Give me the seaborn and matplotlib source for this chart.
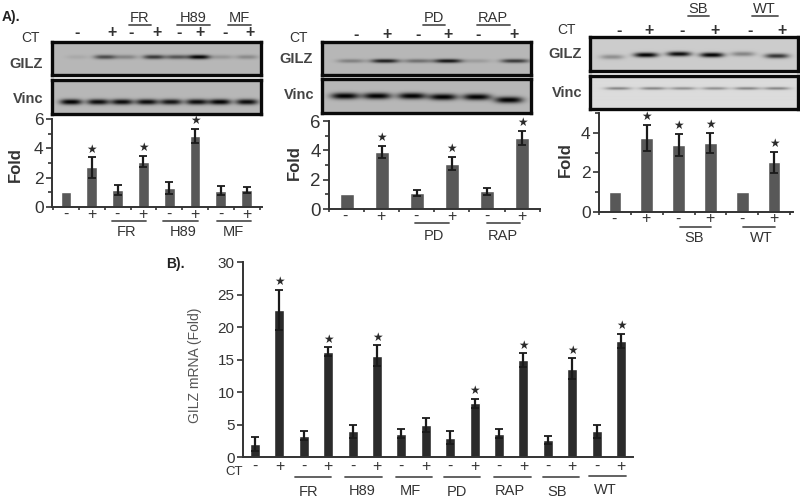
import numpy as np
import matplotlib
matplotlib.use("Agg")
import matplotlib.pyplot as plt
import seaborn as sns

sns.set_theme(style="white")
plt.rcParams['font.family'] = ['Liberation Sans', 'DejaVu Sans']

# ---- data
a1_cats = ["-", "+", "FR-", "FR+", "H89-", "H89+", "MF-", "MF+"]
a1_vals = [1.0, 2.7, 1.15, 3.1, 1.3, 4.85, 1.1, 1.15]
a1_errs = [0, 0.7, 0.35, 0.4, 0.4, 0.5, 0.3, 0.2]
a1_star = [1, 3, 5]
a2_cats = ["-", "+", "PD-", "PD+", "RAP-", "RAP+"]
a2_vals = [1.0, 3.9, 1.1, 3.1, 1.2, 4.85]
a2_errs = [0, 0.4, 0.2, 0.45, 0.25, 0.5]
a2_star = [1, 3, 5]
a3_cats = ["-", "+", "SB-", "SB+", "WT-", "WT+"]
a3_vals = [1.0, 3.75, 3.4, 3.5, 1.0, 2.5]
a3_errs = [0, 0.65, 0.55, 0.5, 0, 0.55]
a3_star = [1, 2, 3, 5]
b_cats = ["-", "+", "FR-", "FR+", "H89-", "H89+", "MF-", "MF+",
          "PD-", "PD+", "RAP-", "RAP+", "SB-", "SB+", "WT-", "WT+"]
b_vals = [2.0, 22.6, 3.3, 16.2, 4.0, 15.6, 3.6, 4.9, 3.0, 8.3, 3.6, 14.9, 2.6, 13.6, 4.0, 17.9]
b_errs = [1.1, 3.1, 0.7, 0.7, 1.0, 1.6, 0.7, 1.1, 1.0, 0.7, 0.7, 1.1, 0.6, 1.6, 1.0, 1.1]
b_star = [1, 3, 5, 9, 11, 13, 15]
b_signs = ["-", "+"] * 8

# blot band strengths (0 none .. 1 black)
a1_gilz = [0.08, 0.6, 0.28, 0.7, 0.55, 1.0, 0.18, 0.25]
a1_vinc = [1.0, 0.95, 0.95, 0.95, 0.9, 0.95, 1.0, 0.95]
a2_gilz = [0.3, 0.85, 0.4, 0.9, 0.15, 0.7]
a2_vinc = [1.0, 1.0, 1.0, 1.0, 1.0, 1.0]
a3_gilz = [0.3, 1.0, 0.95, 1.0, 0.35, 0.75]
a3_vinc = [0.4, 0.4, 0.35, 0.35, 0.4, 0.4]

W, H = 800, 498
fig = plt.figure(figsize=(W / 100, H / 100), dpi=100, facecolor="white")
INK = "#333333"


def rect(l, t, r, b):
    return [l / W, 1 - b / H, (r - l) / W, (b - t) / H]


def txt(x, y, s, size=9, weight="normal", color=INK, rot=0, ha="center"):
    fig.text(x / W, 1 - y / H, s, fontsize=size, fontweight=weight, color=color,
             rotation=rot, ha=ha, va="center")


def hline(x0, x1, y, lw=1.3, color="#555555"):
    fig.add_artist(plt.Line2D([x0 / W, x1 / W], [1 - y / H, 1 - y / H], lw=lw, color=color))


def blot(l, t, r, b, lanes, ys, strengths, bg, halfw, sig):
    ax = fig.add_axes(rect(l, t, r, b))
    h, w = (b - t) * 3, (r - l) * 3
    xx = np.linspace(l, r, w)
    yy = np.linspace(t, b, h)
    img = np.full((h, w), bg, dtype=float)
    for cx, cy, st in zip(lanes, ys, strengths):
        bx = np.exp(-np.abs((xx - cx) / halfw) ** 3)
        by = np.exp(-((yy - cy) / sig) ** 2)
        img -= np.outer(by, bx) * st * bg
    ax.imshow(np.clip(img, 0, 1), cmap="gray", vmin=0, vmax=1, aspect="auto", interpolation="bilinear")
    ax.set_xticks([])
    ax.set_yticks([])
    for s in ax.spines.values():
        s.set_visible(True)
        s.set_linewidth(2.4)
        s.set_color("#0a0a0a")


def bars(l, t, r, b, c0, step, cats, vals, errs, stars, ymax, yticks, minor, color, width,
         ylabel, lab_size, star_off, xticks=True):
    ax = fig.add_axes(rect(l, t, r, b))
    ax.patch.set_alpha(0)
    sns.barplot(x=cats, y=vals, color=color, saturation=1, width=width, errorbar=None, ax=ax)
    ax.set_xlim((l - c0) / step, (r - c0) / step)
    ax.set_ylim(0, ymax)
    pos = np.arange(len(cats))
    keep = np.array(errs) > 0
    ax.errorbar(pos[keep], np.array(vals)[keep], yerr=np.array(errs)[keep], fmt="none",
                ecolor="#1a1a1a", elinewidth=1.6, capsize=3, capthick=1.3)
    for i in stars:
        ax.annotate("★", (i, vals[i] + errs[i]), xytext=(0, star_off), textcoords="offset pixels",
                    ha="center", va="center", fontsize=8.5, color="#2a2a2a", family="DejaVu Sans")
    sns.despine(ax=ax)
    for s in ("left", "bottom"):
        ax.spines[s].set_linewidth(1.4)
        ax.spines[s].set_color(INK)
    ax.set_yticks(yticks)
    if minor:
        ax.set_yticks(minor, minor=True)
    ax.tick_params(axis="y", which="major", length=4, width=1.2, color=INK, labelcolor=INK,
                   labelsize=lab_size, pad=2, left=True)
    ax.tick_params(axis="y", which="minor", length=3, width=1.2, color=INK, left=True)
    if xticks:
        ax.set_xticks(np.arange(-0.5, len(cats)))
        ax.tick_params(axis="x", length=2.5, width=1.2, color=INK, bottom=True, labelbottom=False)
    else:
        ax.set_xticks([])
    ax.set_xlabel("")
    ax.set_ylabel("")
    return ax


GREY = "#585858"

# ---- panel A, left
blot(52, 42, 261, 75, [77, 105, 126, 154, 177, 199, 222, 247], [57] * 8, a1_gilz, 0.72, 11, 2.2)
blot(52, 80, 261, 114, [71, 98, 122, 147, 171, 197, 220, 247], [102] * 8, a1_vinc, 0.72, 11, 2.8)
bars(52, 119, 262, 207, 66, 25.8, a1_cats, a1_vals, a1_errs, a1_star, 6, [0, 2, 4, 6], [1, 3, 5],
     GREY, 0.42, None, 12.5, 8)
txt(2, 17, "A).", 10, "bold", "#222222", ha="left")
for x, s in zip([140, 193, 239], ["FR", "H89", "MF"]):
    txt(x, 18, s, 10.5)
for x0, x1 in [(129, 151), (177, 210), (228, 251)]:
    hline(x0, x1, 25)
txt(30, 38, "CT", 10)
for x, s in zip([77, 112, 131, 157, 179, 200, 225, 250], ["-", "+"] * 4):
    txt(x, 33, s, 11.5, "bold")
txt(26, 64, "GILZ", 10.5, "bold", "#444444")
txt(28, 99, "Vinc", 10.5, "bold", "#444444")
txt(15, 165, "Fold", 12, "bold", rot=90)
for x, s in zip([66, 92, 117, 143, 169, 195, 221, 247], ["-", "+"] * 4):
    txt(x, 214, s, 11.5)
for x0, x1 in [(112, 146), (163, 198), (217, 251)]:
    hline(x0, x1, 221)
for x, s in zip([127, 183, 233], ["FR", "H89", "MF"]):
    txt(x, 232, s, 10.5)

# ---- panel A, middle
blot(322, 42, 531, 75, [351, 385, 418, 448, 477, 515], [61] * 6, a2_gilz, 0.72, 14, 2.0)
blot(322, 79, 531, 113, [345, 377, 412, 443, 477, 509], [96, 96, 96, 97, 97, 100], a2_vinc, 0.72, 14, 3.2)
bars(329, 121, 540, 209, 345, 35.4, a2_cats, a2_vals, a2_errs, a2_star, 6, [0, 2, 4, 6], [1, 3, 5],
     GREY, 0.4, None, 13.5, 8)
for x, s in zip([434, 493], ["PD", "RAP"]):
    txt(x, 18, s, 10.5)
for x0, x1 in [(423, 445), (477, 510)]:
    hline(x0, x1, 25)
txt(299, 38, "CT", 10)
for x, s in zip([356, 387, 418, 448, 478, 514], ["-", "+"] * 3):
    txt(x, 35, s, 11.5, "bold")
txt(296, 59, "GILZ", 10.5, "bold", "#444444")
txt(299, 95, "Vinc", 10.5, "bold", "#444444")
txt(294, 163, "Fold", 12, "bold", rot=90)
for x, s in zip([345, 381, 416, 452, 487, 522], ["-", "+"] * 3):
    txt(x, 216, s, 11.5)
for x0, x1 in [(415, 449), (487, 520)]:
    hline(x0, x1, 223)
for x, s in zip([434, 503], ["PD", "RAP"]):
    txt(x, 236, s, 10.5)

# ---- panel A, right
blot(590, 37, 798, 71, [612, 646, 679, 712, 743, 777], [57, 55, 54, 55, 54, 56], a3_gilz, 0.8, 12, 2.4)
blot(590, 76, 798, 109, [618, 653, 683, 715, 747, 777], [89] * 6, a3_vinc, 0.86, 13, 1.4)
bars(599, 113, 793, 212, 614, 32, a3_cats, a3_vals, a3_errs, a3_star, 5, [0, 2, 4], [1, 3, 5],
     GREY, 0.4, None, 12.5, 8)
for x, s in zip([698, 764], ["SB", "WT"]):
    txt(x, 9, s, 10.5)
for x0, x1 in [(688, 709), (752, 778)]:
    hline(x0, x1, 16)
txt(567, 30, "CT", 10)
for x, s in zip([619, 649, 682, 715, 750, 782], ["-", "+"] * 3):
    txt(x, 31, s, 11.5, "bold")
txt(565, 54, "GILZ", 10.5, "bold", "#444444")
txt(567, 93, "Vinc", 10.5, "bold", "#444444")
txt(565, 160, "Fold", 12, "bold", rot=90)
for x, s in zip([614, 646, 678, 710, 742, 774], ["-", "+"] * 3):
    txt(x, 219, s, 11.5)
for x0, x1 in [(680, 711), (743, 775)]:
    hline(x0, x1, 227)
for x, s in zip([694, 761], ["SB", "WT"]):
    txt(x, 238, s, 10.5)

# ---- panel B
bars(243, 262, 633, 457, 255, 24.4, b_cats, b_vals, b_errs, b_star, 30, [0, 5, 10, 15, 20, 25, 30], None,
     "#2b2b2b", 0.41, None, 11, 8, xticks=False)
txt(175, 264, "B).", 10, "bold", "#222222")
txt(195, 365, "GILZ mRNA (Fold)", 10, "normal", "#555555", rot=90)
txt(234, 472, "CT", 9.5)
for i, s in enumerate(b_signs):
    txt(255 + 24.4 * i, 466, s, 11.5)
for x0, x1, y in [(405, 512, 682), (555, 665, 682), (707, 817, 682), (852, 960, 682),
                  (1002, 1112, 680), (1148, 1257, 680), (1288, 1397, 677)]:
    hline(160 + x0 / 3, 160 + x1 / 3, 250 + y / 3)
for x, y, s in [(447, 725, "FR"), (607, 722, "H89"), (752, 722, "MF"), (890, 725, "PD"),
                (1048, 724, "RAP"), (1192, 726, "SB"), (1335, 720, "WT")]:
    txt(160 + x / 3, 250 + y / 3, s, 10.5)

fig.savefig("out.png", dpi=100, facecolor="white")
